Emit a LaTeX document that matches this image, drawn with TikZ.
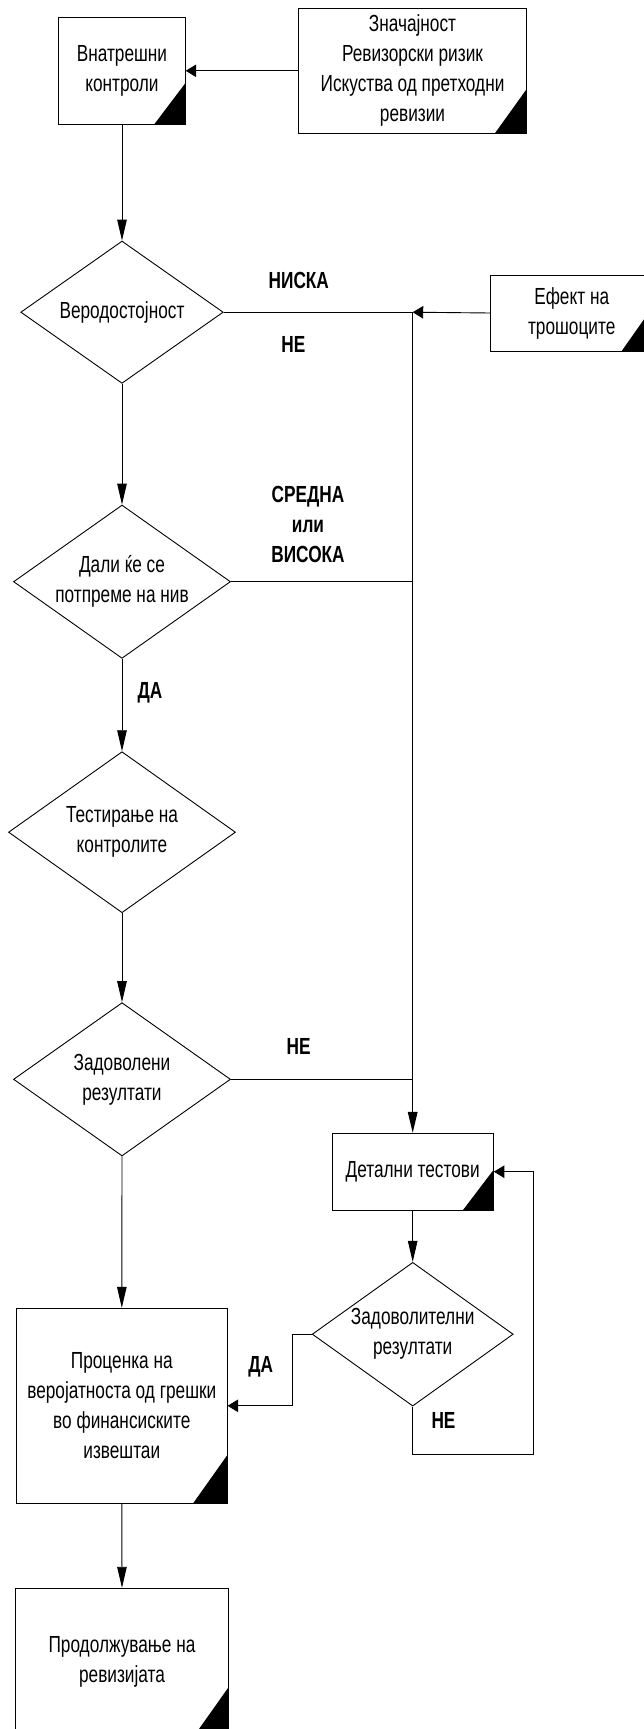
\documentclass[tikz,border=0pt]{standalone}
\usepackage{fontspec}
\setmainfont{Liberation Sans}[FakeStretch=0.74]
\usetikzlibrary{arrows.meta,shapes.geometric}
\begin{document}
\begin{tikzpicture}[x=1pt,y=-1pt,
  txt/.style={font=\fontsize{23.3}{30}\selectfont, inner sep=0pt, align=center},
  lbl/.style={font=\fontsize{23.3}{30}\selectfont\bfseries, inner sep=0pt, align=center},
  box/.style={draw, line width=0.9pt, rectangle, inner sep=0pt, align=center,
    font=\fontsize{23.3}{30}\selectfont},
  dia/.style={draw, line width=0.9pt, diamond, inner sep=0pt},
  corner/.style 2 args={path picture={\fill ([xshift=-#1]path picture bounding box.south east) -- (path picture bounding box.south east) -- ([yshift=#2]path picture bounding box.south east) -- cycle;}},
  conn/.style={line width=0.9pt},
  vout/.style={conn, -{Triangle[length=21pt,width=9.5pt]}},
  hout/.style={conn, -{Triangle[length=10.5pt,width=12.5pt]}}
]
\useasboundingbox (0,0) rectangle (644,1729);
\clip (0,0) rectangle (644,1729);

% boxes
\node[box, minimum width=126.5pt, minimum height=107pt, corner={31pt}{41pt}] (b1) at (122,70.8) {Внатрешни\\контроли};
\node[box, minimum width=228pt, minimum height=125pt, corner={31.6pt}{44pt}] (b2) at (412.5,70.8) {Значајност\\Ревизорски ризик\\Искуства од претходни\\ревизии};
\node[box, minimum width=162pt, minimum height=76pt, corner={31pt}{44pt}] (b3) at (571.7,313) {Ефект на\\трошоците};
\node[box, minimum width=161.4pt, minimum height=76.7pt, corner={30.4pt}{40pt}] (b4) at (412.7,1171.7) {Детални тестови};
\node[box, minimum width=210.7pt, minimum height=195pt, corner={34pt}{48pt}] (b5) at (121.8,1405.8) {Проценка на\\веројатноста од грешки\\во финансиските\\извештаи};
\node[box, minimum width=213.5pt, minimum height=146.7pt, corner={34pt}{48pt}] (b6) at (122,1661.6) {Продолжување на\\ревизијата};

% diamonds
\node[dia, minimum width=202.5pt, minimum height=142.3pt] (d1) at (122,312.2) {};
\node[txt] (d1t) at (d1) {Веродостојност};
\node[dia, minimum width=217pt, minimum height=153.3pt] (d2) at (122,581.7) {};
\node[txt] (d2t) at (d2) {Дали ќе се\\потпреме на нив};
\node[dia, minimum width=227pt, minimum height=161pt] (d3) at (122,832.2) {};
\node[txt] (d3t) at (d3) {Тестирање на\\контролите};
\node[dia, minimum width=217pt, minimum height=153.3pt] (d4) at (122,1079.3) {};
\node[txt] (d4t) at (d4) {Задоволени\\резултати};
\node[dia, minimum width=201pt, minimum height=143.7pt] (d5) at (412.7,1334.2) {};
\node[txt] (d5t) at (d5) {Задоволителни\\резултати};

% junction coordinates
\coordinate (j1) at (412.7,312.2);
\coordinate (j2) at (412.7,581.7);
\coordinate (j4) at (412.7,1079.3);
\coordinate (k1) at (292.4,1405.8);
\coordinate (m1) at (533,1454);

% connectors
\draw[hout] (b2.west) -- (b1.east);
\draw[vout] (b1.south) -- (d1.north);
\draw[conn] (d1.east) -- (j1);
\draw[hout] (b3.west) -- (j1);
\draw[conn] (j1) -- (j2);
\draw[vout] (d1.south) -- (d2.north);
\draw[conn] (d2.east) -- (j2);
\draw[vout, line width=1.5pt] (j2) -- (b4.north);
\draw[vout] (d2.south) -- (d3.north);
\draw[vout] (d3.south) -- (d4.north);
\draw[conn] (d4.east) -- (j4);
\draw[vout] (d4.south) -- (b5.north);
\draw[vout] (b4.south) -- (d5.north);
\draw[hout] (d5.west) -| (k1) -- (b5.east);
\draw[hout] (d5.south) |- (m1) |- (b4.east);
\draw[vout] (b5.south) -- (b6.north);

% labels
\node[lbl] (lnis) at (298.8,280) {НИСКА};
\node[lbl] (lne1) at (293.3,344) {НЕ};
\node[lbl] (lsr) at (308,524) {СРЕДНА\\или\\ВИСОКА};
\node[lbl] (lda1) at (150,692.7) {ДА};
\node[lbl] (lne2) at (298.6,1046.7) {НЕ};
\node[lbl] (lda2) at (260.8,1366.7) {ДА};
\node[lbl] (lne3) at (443.5,1420.7) {НЕ};
\end{tikzpicture}
\end{document}
